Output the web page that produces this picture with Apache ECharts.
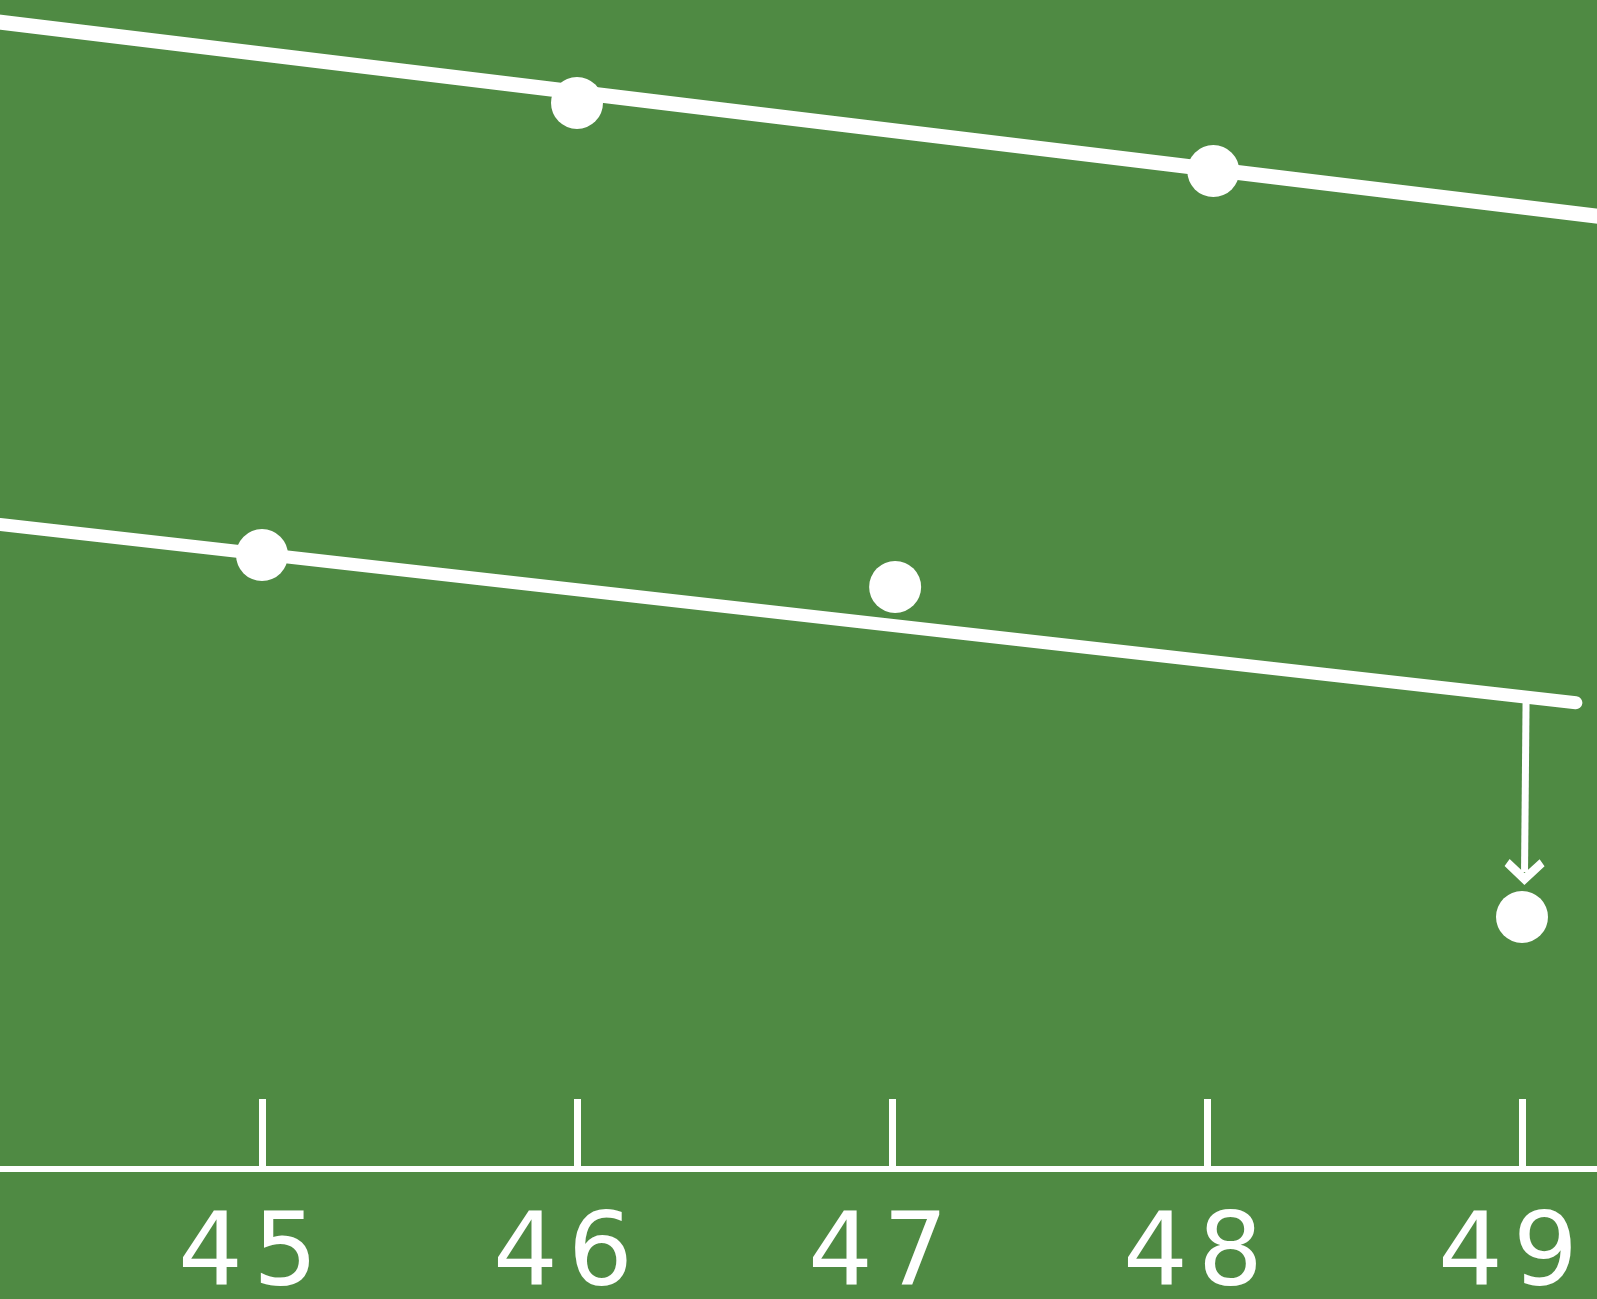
<!DOCTYPE html>
<html>
<head>
<meta charset="utf-8">
<script src="https://cdn.jsdelivr.net/npm/echarts@6/dist/echarts.min.js"></script>
<style>
html,body{margin:0;padding:0;background:#4f8a43;overflow:hidden;width:1597px;height:1299px;position:relative;}
#chart{position:absolute;left:-53px;top:0;width:1890px;height:1299px;}
</style>
</head>
<body>
<div id="chart"></div>
<script>
// x ticks (years, last digits)
const xTicks = [44, 45, 46, 47, 48, 49, 50];
// upper fitted line (endpoints) and its measured points
const upperLine = [[44, 9.866], [50, 7.901]];
const upperPoints = [[46, 9.119], [48.02, 8.537]];
// lower fitted line (endpoints) and its measured points
const lowerLine = [[44, 5.564], [49.171, 3.989]];
const lowerPoints = [[45, 5.252], [47.01, 4.979], [49, 2.156]];
// arrow from lower line down to the 49 point
const arrowStart = [49.013, 4.03];
const arrowEnd = [49.008, 2.54];

const chevron = 'path://M0,0 L20,19 L15,26 L0,12 L-15,26 L-20,19 Z';

const chart = echarts.init(document.getElementById('chart'));
chart.setOption({
  backgroundColor: '#4f8a43',
  animation: false,
  grid: { left: 0, right: 0, top: 0, bottom: 130, containLabel: false, outerBoundsMode: 'none' },
  xAxis: {
    type: 'value',
    min: xTicks[0],
    max: xTicks[xTicks.length - 1],
    interval: 1,
    splitLine: { show: false },
    axisLine: { show: true, lineStyle: { color: '#ffffff', width: 6 } },
    axisTick: { show: true, inside: true, length: 70, lineStyle: { color: '#ffffff', width: 7 } },
    axisLabel: {
      show: true,
      color: '#ffffff',
      fontFamily: 'DejaVu Sans',
      fontSize: 102,
      margin: 89,
      verticalAlign: 'middle',
      padding: [0, 28, 0, 0],
      showMinLabel: true,
      showMaxLabel: true,
      hideOverlap: false,
      formatter: function (v) {
        return String(v).split('').map(function (c) { return '{d|' + c + '}'; }).join('');
      },
      rich: {
        d: { color: '#ffffff', fontFamily: 'DejaVu Sans', fontSize: 102, padding: [0, 5, 0, 5] }
      }
    }
  },
  yAxis: {
    type: 'value',
    min: 0,
    max: 10,
    show: false,
    splitLine: { show: false }
  },
  series: [
    {
      type: 'line',
      data: upperLine,
      symbol: 'none',
      lineStyle: { color: '#ffffff', width: 15, cap: 'round' },
      silent: true
    },
    {
      type: 'scatter',
      data: upperPoints,
      symbol: 'circle',
      symbolSize: 52,
      itemStyle: { color: '#ffffff', opacity: 1 },
      silent: true
    },
    {
      type: 'line',
      data: lowerLine,
      symbol: 'none',
      lineStyle: { color: '#ffffff', width: 13, cap: 'round' },
      silent: true
    },
    {
      type: 'scatter',
      data: lowerPoints,
      symbol: 'circle',
      symbolSize: 52,
      itemStyle: { color: '#ffffff', opacity: 1 },
      silent: true,
      markLine: {
        silent: true,
        animation: false,
        symbol: ['none', chevron],
        symbolSize: [40, 26],
        label: { show: false },
        lineStyle: { color: '#ffffff', width: 7, type: 'solid' },
        itemStyle: { color: '#ffffff' },
        emphasis: { disabled: true },
        data: [[{ coord: arrowStart }, { coord: arrowEnd }]]
      }
    }
  ]
});
</script>
</body>
</html>
